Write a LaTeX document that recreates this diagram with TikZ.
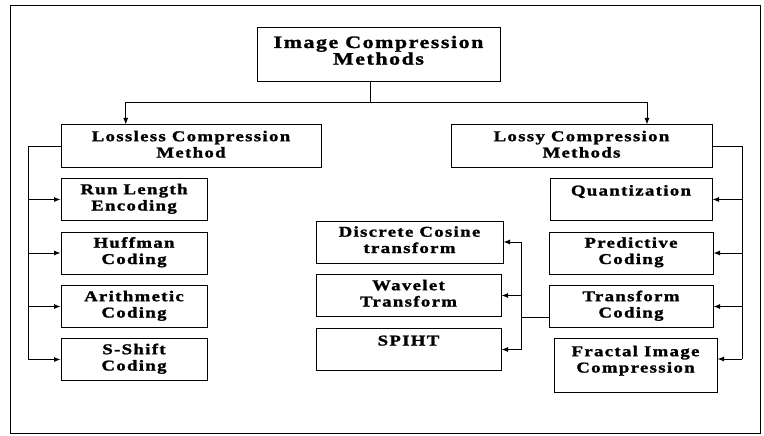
\documentclass[tikz,border=0pt]{standalone}
\usepackage{fontspec}
\newfontfamily\diagfont{Liberation Serif}[FakeStretch=1.25,LetterSpace=9,BoldFeatures={FakeBold=1.5}]
\usetikzlibrary{arrows.meta,calc}

\begin{document}
\begin{tikzpicture}[x=1pt, y=-1pt,
  box/.style={draw, line width=1pt, align=center, inner sep=0pt, text height=32pt, text depth=10pt,
    font=\diagfont\bfseries\fontsize{15}{16.3}\selectfont},
  single/.style={text height=17pt, text depth=25pt},
  wire/.style={line width=1pt},
  arr/.style={wire, -{Latex[length=6.5pt,width=5pt]}}]
  \useasboundingbox (0,0) rectangle (764,436);
  \draw[line width=1pt] (10,6) rectangle (760,433);

  \node (icm) at (378.5,55) [box, minimum width=243pt, text height=36.6pt, text depth=17.4pt,
    font=\diagfont\bfseries\fontsize{17.5}{16.6}\selectfont] {Image Compression\\Methods};
  \node (lossless) at (191,146) [box, minimum width=260pt, text height=32.5pt, text depth=9.5pt] {Lossless Compression\\Method};
  \node (lossy) at (581.5,146) [box, minimum width=261pt, text height=32.5pt, text depth=9.5pt] {Lossy Compression\\Methods};

  % lossless side
  \node (rle) at (134,199.5) [box, minimum width=146pt] {Run Length\\Encoding};
  \node (huff) at (134,253) [box, minimum width=146pt] {Huffman\\Coding};
  \node (arith) at (134,306.5) [box, minimum width=146pt] {Arithmetic\\Coding};
  \node (sshift) at (134,359.5) [box, minimum width=146pt] {S-Shift\\Coding};

  % lossy side
  \node (quant) at (631,199.5) [box, single, minimum width=162pt] {Quantization};
  \node (pred) at (631,253) [box, minimum width=164pt] {Predictive\\Coding};
  \node (tc) at (631,306.5) [box, minimum width=164pt] {Transform\\Coding};
  \node (fractal) at (635.5,365) [box, minimum width=163pt, text height=34.5pt, text depth=19.5pt] {Fractal Image\\Compression};

  % transform coding methods
  \node (dct) at (409.5,242) [box, minimum width=187pt] {Discrete Cosine\\transform};
  \node (wav) at (408.5,295.5) [box, minimum width=185pt] {Wavelet\\Transform};
  \node (spiht) at (408.5,349.5) [box, single, minimum width=185pt] {SPIHT};

  \coordinate (split) at (370,103);
  \draw[wire] (split |- icm.south) -- (split);
  \draw[arr] (split) -| ($(lossless.north west)!0.25!(lossless.north east)$);
  \draw[arr] (split) -| ($(lossy.north west)!0.75!(lossy.north east)$);

  \coordinate (lbus) at (28,146);
  \draw[wire] (lossless.west) -- (lbus) -- (lbus |- sshift.west);
  \foreach \n in {rle,huff,arith,sshift}
    \draw[arr] (lbus |- \n.west) -- (\n.west);

  \coordinate (rbus) at (742,146);
  \coordinate (fin) at ([yshift=6pt]fractal.east);
  \draw[wire] (lossy.east) -- (rbus) -- (rbus |- fin);
  \foreach \n in {quant,pred,tc}
    \draw[arr] (rbus |- \n.east) -- (\n.east);
  \draw[arr] (rbus |- fin) -- (fin);

  \coordinate (tcout) at ([yshift=-10.5pt]tc.west);
  \coordinate (mbus) at (521,317);
  \draw[wire] (tcout) -- (mbus);
  \draw[wire] (mbus |- dct.east) -- (mbus |- spiht.east);
  \foreach \n in {dct,wav,spiht}
    \draw[arr] (mbus |- \n.east) -- (\n.east);
\end{tikzpicture}
\end{document}
